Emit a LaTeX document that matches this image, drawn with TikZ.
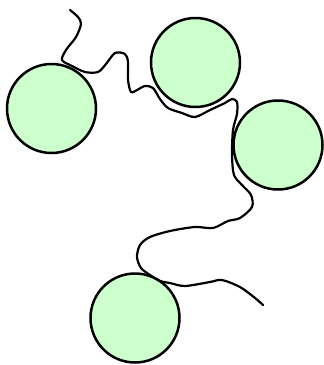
\documentclass[tikz,border=0pt]{standalone}
\begin{document}
\begin{tikzpicture}[x=1pt,y=-1pt,
  ball/.style={circle,draw=black,fill={rgb,255:red,204;green,255;blue,204},line width=2.5pt,inner sep=0pt,minimum size=89pt},
  wire/.style={draw=black,line width=2.2pt,line cap=round,line join=round}]
\useasboundingbox (0,0) rectangle (324,365);
\node[ball] (c1) at (51.5,108.5) {};
\node[ball] (c2) at (195.5,62.5) {};
\node[ball] (c3) at (278,145) {};
\node[ball] (c4) at (135,318) {};
\coordinate (s) at (70,10);
\coordinate (e) at (263,305);
\draw[wire] plot[smooth,tension=0.5] coordinates {
 (s) (78,17) (81,24) (76,37) (66,50) (62,60) (72,66) (85,72) (98,72) (106,64) (115,53) (125,54)
 (128,62) (128,80) (131,92) (137,90) (145,86) (153,88) (160,99) (168,108) (182,113) (195,117)
 (210,110) (225,103) (232,99) (237,102) (237,114) (233,130) (232,155) (234,175) (242,185)
 (251,195) (252,207) (240,218) (228,221) (213,228) (195,227) (170,231) (150,237) (140,245)
 (137,257) (141,268) (150,275) (160,281) (170,283) (185,286) (210,282) (222,280) (240,287)
 (255,298) (e)};
\end{tikzpicture}
\end{document}
